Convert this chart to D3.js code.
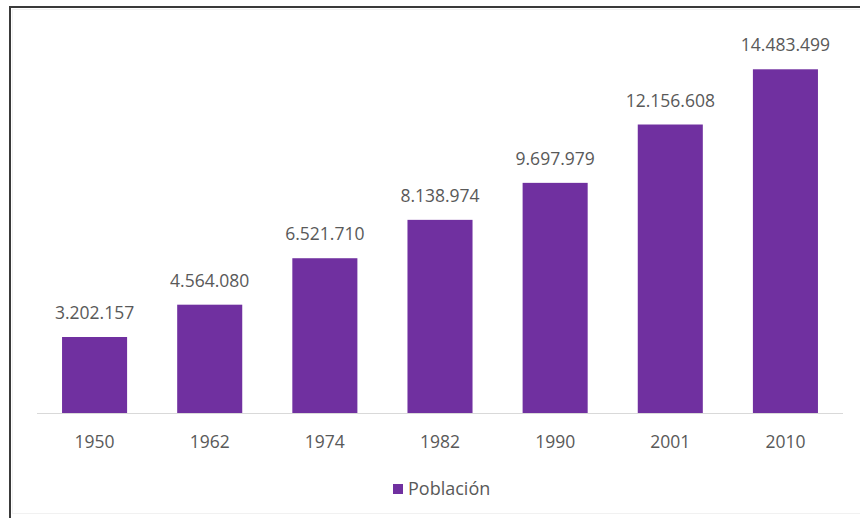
<!DOCTYPE html>
<html>
<head>
<meta charset="utf-8">
<script src="https://cdn.jsdelivr.net/npm/d3@7"></script>
<style>
  html, body { margin: 0; padding: 0; background: #ffffff; }
  svg { display: block; }
  text { font-family: "Open Sans", "Noto Sans", sans-serif; fill: #595959; }
</style>
</head>
<body>
<svg id="chart" width="860" height="518"></svg>
<script>
const categories = ["1950", "1962", "1974", "1982", "1990", "2001", "2010"];
const values = [3202157, 4564080, 6521710, 8138974, 9697979, 12156608, 14483499];
const valueLabels = ["3.202.157", "4.564.080", "6.521.710", "8.138.974", "9.697.979", "12.156.608", "14.483.499"];
const seriesName = "Población";

const svg = d3.select("#chart");
const W = 860, H = 518;

svg.append("rect").attr("x", 0).attr("y", 0).attr("width", W).attr("height", H).attr("fill", "#ffffff");
// faint inner frame
svg.append("rect").attr("x", 12.5).attr("y", 9.5).attr("width", W - 12).attr("height", 504)
  .attr("fill", "none").attr("stroke", "#f1f1f1").attr("stroke-width", 1);
// dark outer frame (top + left)
svg.append("line").attr("x1", 9).attr("x2", W).attr("y1", 7).attr("y2", 7)
  .attr("stroke", "#3a3a3a").attr("stroke-width", 2);
svg.append("line").attr("x1", 10).attr("x2", 10).attr("y1", 6).attr("y2", H)
  .attr("stroke", "#3a3a3a").attr("stroke-width", 2);

const plotLeft = 37, plotRight = 843, baseY = 413;

const x = d3.scaleBand().domain(categories).range([plotLeft, plotRight]).paddingInner(0.435).paddingOuter(0.2175);
const y = d3.scaleLinear().domain([0, 16000000]).range([baseY, baseY - 379.7]);

const g = svg.append("g");

g.selectAll("rect.bar").data(values).join("rect")
  .attr("class", "bar")
  .attr("x", (d, i) => x(categories[i]))
  .attr("width", x.bandwidth())
  .attr("y", d => y(d))
  .attr("height", d => y(0) - y(d))
  .attr("fill", "#7030A0");

// x axis
const xAxis = d3.axisBottom(x).tickSize(0).tickPadding(0);
const ax = svg.append("g").attr("transform", `translate(0,${baseY})`).call(xAxis);
ax.select(".domain").attr("stroke", "#d9d9d9").attr("stroke-width", 1)
  .attr("d", `M${plotLeft},0.5H${plotRight}`);
ax.selectAll(".tick text")
  .attr("y", 34.5).attr("dy", null)
  .style("font-family", '"Open Sans", "Noto Sans", sans-serif')
  .style("font-size", "17.5px")
  .attr("fill", "#595959");

// value labels
g.selectAll("text.val").data(values).join("text")
  .attr("class", "val")
  .attr("x", (d, i) => x(categories[i]) + x.bandwidth() / 2)
  .attr("y", d => y(d) - 18)
  .attr("text-anchor", "middle")
  .style("font-size", "17.5px")
  .text((d, i) => valueLabels[i]);

// legend
const lg = svg.append("g");
lg.append("rect").attr("x", 393).attr("y", 484).attr("width", 10).attr("height", 10).attr("fill", "#7030A0");
lg.append("text").attr("x", 408).attr("y", 494.5).style("font-size", "18px").text(seriesName);
</script>
</body>
</html>
